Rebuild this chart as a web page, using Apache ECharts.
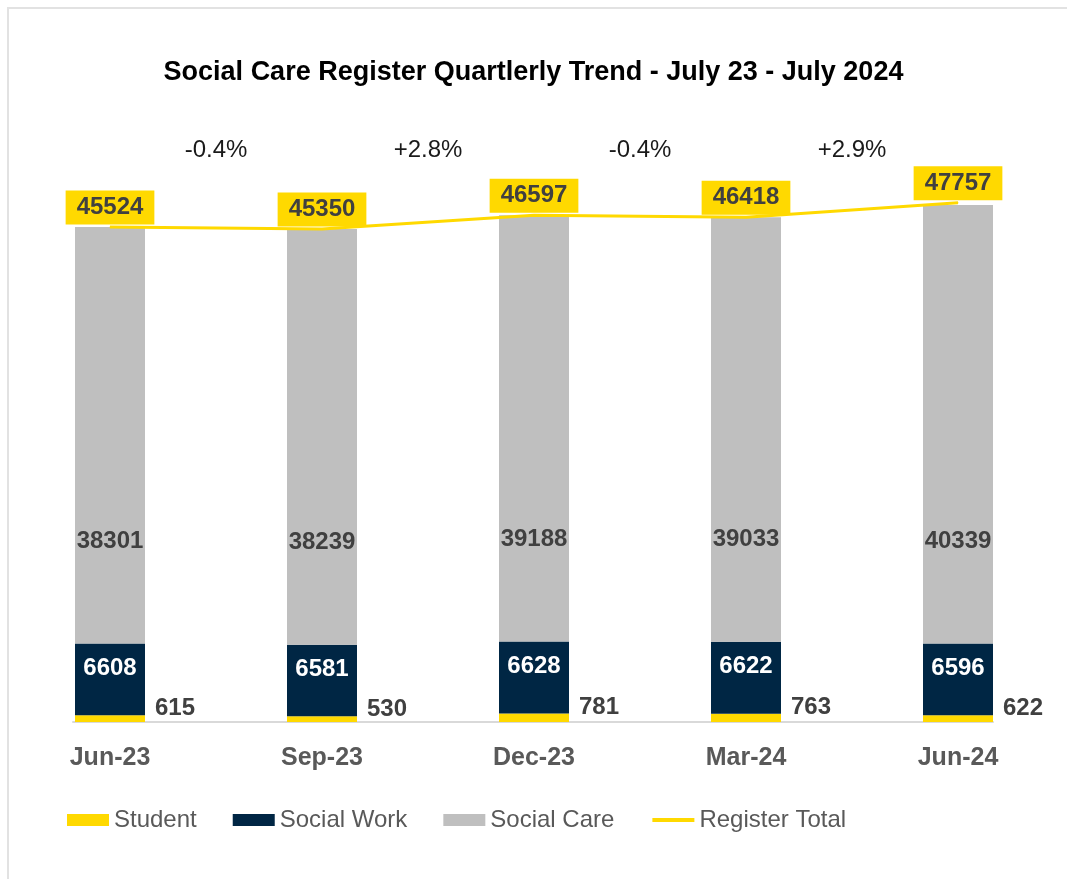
<!DOCTYPE html>
<html>
<head>
<meta charset="utf-8">
<title>Social Care Register Quartlerly Trend</title>
<script src="https://cdn.jsdelivr.net/npm/echarts@6/dist/echarts.min.js"></script>
<style>
  html, body { margin: 0; padding: 0; background: #fff; }
  #grafico { position: absolute; left: 0; top: 0; width: 1067px; height: 879px; }
  #marco {
    position: absolute; left: 7px; top: 7px; width: 1060px; height: 872px;
    border-top: 2px solid #e2e2e2; border-left: 2px solid #e2e2e2;
    pointer-events: none; box-sizing: border-box;
  }
</style>
</head>
<body>
<div id="grafico"></div>
<div id="marco"></div>
<script>
// datos
const trimestres = ['Jun-23', 'Sep-23', 'Dec-23', 'Mar-24', 'Jun-24']
const student = [615, 530, 781, 763, 622]
const socialWork = [6608, 6581, 6628, 6622, 6596]
const socialCare = [38301, 38239, 39188, 39033, 40339]
const registerTotal = [45524, 45350, 46597, 46418, 47757]
const cambios = ['-0.4%', '+2.8%', '-0.4%', '+2.9%']

// altura de las etiquetas de cambio (en unidades del eje y)
const alturaCambio = 52600

const amarillo = '#FFD900'
const azul = '#002644'
const gris = '#BFBFBF'
const fuente = '"Liberation Sans", Arial, sans-serif'

let myChart = echarts.init(document.getElementById('grafico'), null, { renderer: 'canvas' })

const etiquetaNegrita = {
    fontFamily: fuente,
    fontSize: 24,
    fontWeight: 'bold',
}

const option = {
    animation: false,
    backgroundColor: '#fff',
    textStyle: { fontFamily: fuente },
    title: {
        text: 'Social Care Register Quartlerly Trend - July 23 - July 2024',
        left: 'center',
        top: 54,
        textStyle: { fontFamily: fuente, fontSize: 27, fontWeight: 'bold', color: '#000' },
    },
    legend: {
        left: 62,
        top: 803,
        itemWidth: 42,
        itemHeight: 12,
        itemGap: 36,
        textStyle: { fontFamily: fuente, fontSize: 24, color: '#595959' },
        data: [
            { name: 'Student', icon: 'rect' },
            { name: 'Social Work', icon: 'rect' },
            { name: 'Social Care', icon: 'rect' },
            { name: 'Register Total', itemStyle: { opacity: 0 }, lineStyle: { width: 4 } },
        ],
    },
    grid: [
        { left: 4, right: 3, top: 124, bottom: 157 },
        // solo para la linea del eje, que va del primer al ultimo bar
        { left: 73, right: 74, top: 124, bottom: 157 },
    ],
    xAxis: [
        {
            type: 'category',
            gridIndex: 0,
            data: trimestres,
            axisLine: { show: false },
            axisTick: { show: false },
            axisLabel: { ...etiquetaNegrita, fontSize: 25, margin: 24, color: '#595959' },
        },
        {
            type: 'value',
            gridIndex: 0,
            min: -0.5,
            max: 4.5,
            show: false,
        },
        {
            type: 'value',
            gridIndex: 1,
            min: 0,
            max: 1,
            axisLine: { show: true, lineStyle: { color: '#d9d9d9', width: 2 } },
            axisTick: { show: false },
            axisLabel: { show: false },
            splitLine: { show: false },
        },
    ],
    yAxis: [
        { type: 'value', gridIndex: 0, min: 0, max: 55000, show: false },
        { type: 'value', gridIndex: 1, min: 0, max: 1, show: false },
    ],
    series: [
        {
            name: 'Student',
            type: 'bar',
            stack: 'total',
            barWidth: 70,
            itemStyle: { color: amarillo },
            label: {
                show: true,
                position: 'right',
                distance: 10,
                offset: [0, -10],
                ...etiquetaNegrita,
                color: '#404040',
            },
            data: student,
        },
        {
            name: 'Social Work',
            type: 'bar',
            stack: 'total',
            barWidth: 70,
            itemStyle: { color: azul },
            label: {
                show: true,
                position: 'insideTop',
                distance: 13,
                ...etiquetaNegrita,
                color: '#fff',
            },
            data: socialWork,
        },
        {
            name: 'Social Care',
            type: 'bar',
            stack: 'total',
            barWidth: 70,
            itemStyle: { color: gris },
            label: {
                show: true,
                position: 'insideBottom',
                distance: 90,
                ...etiquetaNegrita,
                color: '#404040',
            },
            data: socialCare,
        },
        {
            name: 'Register Total',
            type: 'line',
            z: 5,
            symbol: 'circle',
            symbolSize: 1,
            itemStyle: { color: amarillo },
            lineStyle: { color: amarillo, width: 3 },
            label: {
                show: true,
                position: 'top',
                distance: 2,
                backgroundColor: amarillo,
                padding: [5, 11, 5, 11],
                ...etiquetaNegrita,
                color: '#404040',
            },
            data: registerTotal,
        },
        {
            name: 'cambios',
            type: 'scatter',
            xAxisIndex: 1,
            yAxisIndex: 0,
            symbolSize: 0,
            silent: true,
            itemStyle: { opacity: 1 },
            label: {
                show: true,
                position: 'inside',
                formatter: (p) => cambios[p.dataIndex],
                fontFamily: fuente,
                fontSize: 24,
                color: '#1a1a1a',
            },
            data: cambios.map((c, i) => [i + 0.5, alturaCambio]),
        },
    ],
}

myChart.setOption(option)
window.addEventListener('resize', myChart.resize)
</script>
</body>
</html>
